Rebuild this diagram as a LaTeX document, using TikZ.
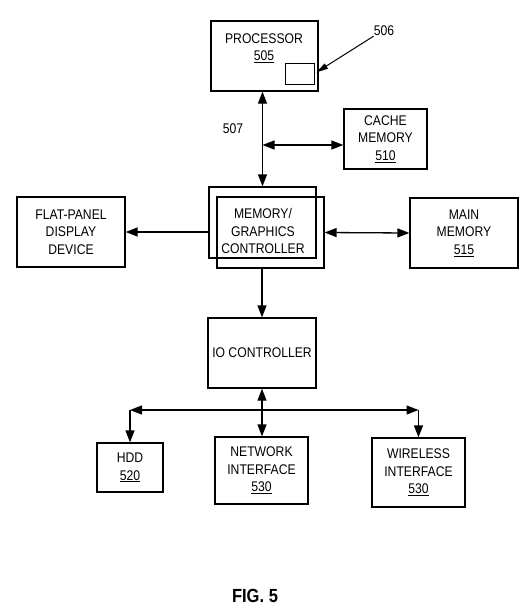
\documentclass[tikz,border=0pt]{standalone}
\usepackage{fontspec}
\setmainfont{Liberation Sans}[FakeStretch=0.87]
\usepackage{tikz}
\usetikzlibrary{
    arrows.meta,
    calc,
    positioning
}

\tikzset{
    blk/.style={draw, line width=1.3pt, inner sep=0pt, align=center},
    txt/.style={align=center, inner sep=0pt, font=\fontsize{14}{17.5}\selectfont},
    conn/.style={line width=1.3pt, {Triangle[length=12pt,width=9pt]}-{Triangle[length=12pt,width=9pt]}},
    oneway/.style={line width=1.3pt, -{Triangle[length=12pt,width=9pt]}}
}

\begin{document}
\begin{tikzpicture}[x=1pt, y=-1pt]
                        \useasboundingbox (0, 0) rectangle (522, 614);
                        % blocks
                        \node[blk, minimum width=107pt, minimum height=70pt] (proc) at (264.5, 56) {};
                        \node[txt] (proctxt) at (264, 48) {PROCESSOR\\\underline{505}};
                        \node[blk, line width=1pt, minimum width=29pt, minimum height=21pt] (reg) at (299.5, 73.5) {};
                        \node[txt] (lbl506) at (384, 31) {506};
                        \node[txt] (lbl507) at (233, 129) {507};
                        \node[blk, txt, minimum width=83pt, minimum height=60pt] (cache) at (385.5, 139) {CACHE\\MEMORY\\\underline{510}};
                        \node[blk, minimum width=107pt, minimum height=71pt] (mgc) at (262.5, 222.5) {};
                        \node[blk, minimum width=107pt, minimum height=71pt] (mgcb) at (270.5, 232.5) {};
                        \node[txt] (mgctxt) at (263, 231) {MEMORY/\\GRAPHICS\\CONTROLLER};
                        \node[blk, txt, minimum width=108pt, minimum height=70pt] (flat) at (71, 232) {FLAT-PANEL\\DISPLAY\\DEVICE};
                        \node[blk, txt, minimum width=108pt, minimum height=70pt] (mainmem) at (464, 233) {MAIN\\MEMORY\\\underline{515}};
                        \node[blk, txt, minimum width=108pt, minimum height=70pt] (io) at (262, 353) {IO CONTROLLER};
                        \node[blk, txt, minimum width=66pt, minimum height=49pt] (hdd) at (130, 467.5) {HDD\\\underline{520}};
                        \node[blk, txt, minimum width=93pt, minimum height=67pt] (net) at (261.5, 470.5) {NETWORK\\INTERFACE\\\underline{530}};
                        \node[blk, txt, minimum width=93pt, minimum height=69pt] (wifi) at (418.5, 472.5) {WIRELESS\\INTERFACE\\\underline{530}};
                        \node[font=\fontsize{19}{20}\selectfont\bfseries] (fig) at (255, 596) {FIG. 5};
                        % connectors
                        \coordinate (busl) at (130, 410);
                        \coordinate (busr) at (418.5, 410);
                        \draw[line width=1pt, -{Triangle[length=12pt,width=6pt]}, shorten >=2pt] (lbl506.south west) -- (reg.east);
                        \draw[conn] (proc.south -| mgc.north) -- (mgc.north);
                        \draw[conn] (mgc.north |- 0, 145) -- (cache.west |- 0, 145);
                        \draw[oneway] (flat.east -| mgc.west) -- (flat.east);
                        \draw[conn] (mgcb.east) -- (mainmem.west);
                        \draw[oneway] (io.north |- mgcb.south) -- (io.north);
                        \draw[conn] (io.south) -- (io.south |- net.north);
                        \draw[conn] (busl) -- (busr);
                        \draw[oneway] (busl) -- (hdd.north);
                        \draw[oneway] (busr) -- (wifi.north);
                    \end{tikzpicture}
\end{document}
